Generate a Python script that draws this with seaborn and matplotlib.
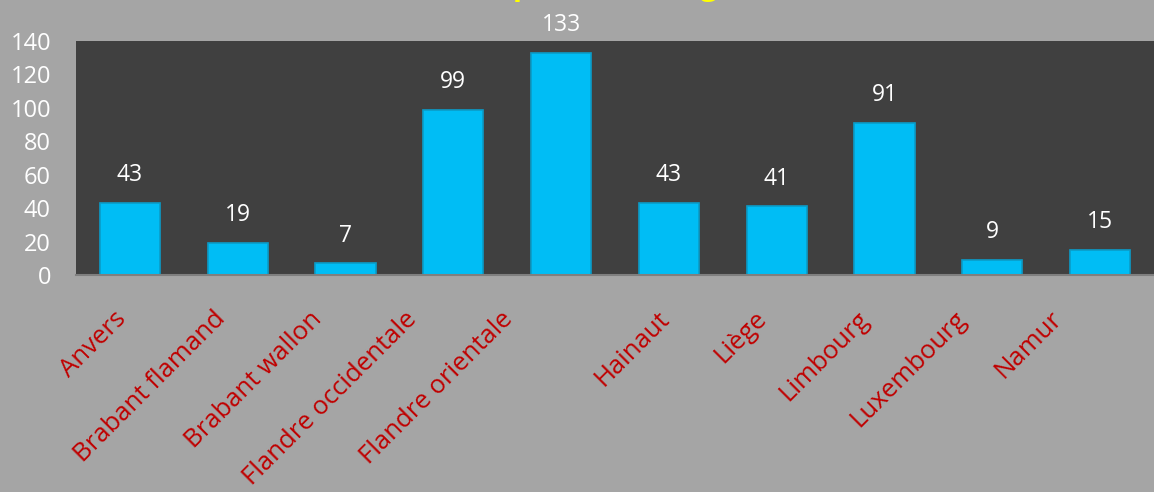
"""Barres par province, fond sombre facon Excel."""

import matplotlib
matplotlib.use("Agg")
import matplotlib.pyplot as plt
import matplotlib.transforms as mtransforms
import pandas as pd
import seaborn as sns


PROVINCES = ["Anvers", "Brabant flamand", "Brabant wallon", "Flandre occidentale",
             "Flandre orientale", "Hainaut", "Liège", "Limbourg", "Luxembourg", "Namur"]
VALEURS = [43, 19, 7, 99, 133, 43, 41, 91, 9, 15]
TITRE = "Nombre de cas par entité régionale"
Y_TICKS = [0, 20, 40, 60, 80, 100, 120, 140]

# decalage horizontal (px) des etiquettes, comme dans le rendu d'origine
DECALAGE_ETIQ = [-7, -16, -27, -40, -52, -3, -14, -19, -30, -42]


def main() -> None:
    sns.set_theme(style="white")
    plt.rcParams["font.family"] = ["Open Sans", "DejaVu Sans"]

    data = pd.DataFrame({"Province": PROVINCES, "Valeur": VALEURS})

    fig = plt.figure(figsize=(11.54, 4.92), dpi=100, facecolor="#A5A5A5")
    ax = fig.add_axes([76 / 1154, 1 - 275 / 492, 1 - 76 / 1154, (275 - 41) / 492])
    ax.set_facecolor("#404040")

    sns.barplot(data=data, x="Province", y="Valeur", color="#00BDF5", width=0.56,
                edgecolor="#0A9CC8", linewidth=1.2, saturation=1, ax=ax)

    for i, v in enumerate(VALEURS):
        ax.annotate(str(v), (i, v), xytext=(0, 20), textcoords="offset points",
                    ha="center", va="center", color="white", fontsize=16.5, annotation_clip=False)

    ax.set_xlim(-0.5, len(PROVINCES) - 0.5)
    ax.set_ylim(0, 140)
    ax.set_yticks(Y_TICKS)
    ax.set_xlabel("")
    ax.set_ylabel("")
    ax.tick_params(axis="y", length=0, pad=18, labelcolor="white", labelsize=17)
    ax.tick_params(axis="x", length=0, pad=29, labelcolor="#C00000", labelsize=18.5)
    for lab, dx in zip(ax.get_xticklabels(), DECALAGE_ETIQ):
        lab.set(rotation=45, ha="right", va="center", rotation_mode="anchor")
        lab.set_transform(lab.get_transform() + mtransforms.ScaledTranslation(dx / 100, 0, fig.dpi_scale_trans))
    for side in ("top", "right", "left"):
        ax.spines[side].set_visible(False)
    ax.spines["bottom"].set_color("#7F7F7F")
    ax.spines["bottom"].set_linewidth(1.5)

    # titre coupe par le haut de l'image, seuls les jambages restent visibles
    fig.text(546 / 1154, 1.0 + 5 / 492, TITRE, ha="center", va="baseline",
             color="#FFFF00", fontsize=21.6, fontweight="bold")

    fig.savefig("out.png", dpi=100, facecolor=fig.get_facecolor())
    plt.close(fig)


if __name__ == "__main__":
    main()
